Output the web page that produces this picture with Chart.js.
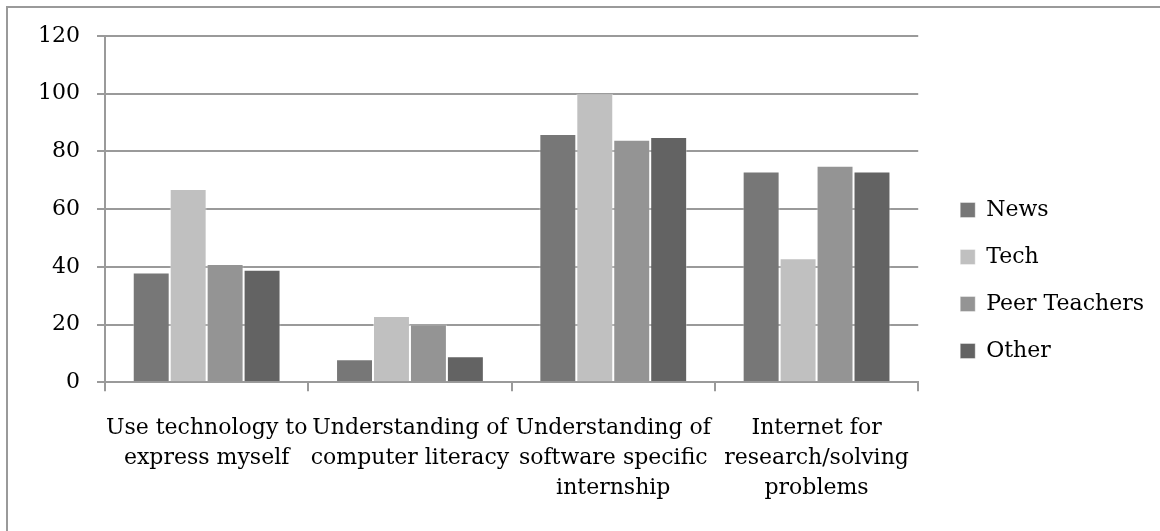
<!DOCTYPE html>
<html>
<head>
<meta charset="utf-8">
<script src="https://cdn.jsdelivr.net/npm/chart.js@4/dist/chart.umd.min.js"></script>
<style>
  html,body{margin:0;padding:0;background:#fff;}
  #frame{position:absolute;left:6px;top:6px;width:1160px;height:531px;
    border-left:2px solid #9a9a9a;border-top:2px solid #9a9a9a;}
  #wrap{position:absolute;left:0;top:0;width:1160px;height:531px;}
</style>
</head>
<body>
<div id="frame"></div>
<div id="wrap"><canvas id="c"></canvas></div>
<script>
// categories + series
const categories=[
  ['Use technology to','express myself'],
  ['Understanding of','computer literacy'],
  ['Understanding of','software specific','internship'],
  ['Internet for','research/solving','problems']
];
const news=[38,8,86,73];
const tech=[67,23,100,43];
const peerTeachers=[41,20,84,75];
const other=[39,9,85,73];
const yTicks=[0,20,40,60,80,100,120];

const FONT='"DejaVu Serif", serif';
const GRID='#9a9a9a';

function ds(label,data,color){
  return {label,data,backgroundColor:color,borderColor:'rgba(255,255,255,.4)',borderWidth:1,
    categoryPercentage:0.727,barPercentage:1};
}

new Chart(document.getElementById('c'),{
  type:'bar',
  data:{labels:categories,datasets:[
    ds('News',news,'#777777'),
    ds('Tech',tech,'#c0c0c0'),
    ds('Peer Teachers',peerTeachers,'#949494'),
    ds('Other',other,'#636363')
  ]},
  options:{
    responsive:true,maintainAspectRatio:false,animation:false,
    layout:{padding:{top:36,left:21,right:6,bottom:6}},
    plugins:{
      tooltip:{enabled:false},
      legend:{position:'right',align:'center',maxWidth:260,
        labels:{font:{family:FONT,size:22},color:'#000',boxWidth:15,boxHeight:15,padding:25}}
    },
    scales:{
      x:{
        grid:{offset:true,drawOnChartArea:false,color:GRID,lineWidth:2,tickLength:9},
        border:{color:GRID,width:2},
        ticks:{font:{family:FONT,size:22,lineHeight:1.36},color:'#000',padding:22,maxRotation:0,autoSkip:false}
      },
      y:{
        min:0,max:120,
        afterBuildTicks:s=>{s.ticks=yTicks.map(v=>({value:v}));},
        grid:{color:GRID,lineWidth:2,tickLength:8},
        border:{color:GRID,width:2},
        ticks:{font:{family:FONT,size:22},color:'#000',padding:17}
      },
      // spacer between plot and legend
      pad:{position:'right',display:true,grid:{display:false},border:{display:false},
        ticks:{display:false},afterFit:s=>{s.width=17;}}
    }
  }
});
</script>
</body>
</html>
